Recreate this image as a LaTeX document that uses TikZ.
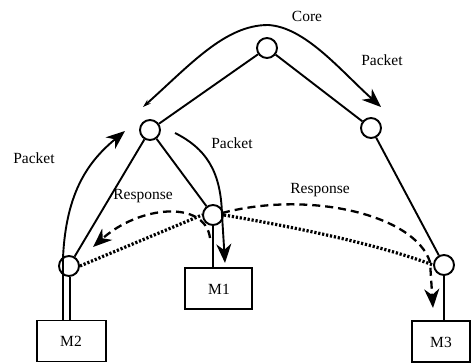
\documentclass[tikz,border=0pt]{standalone}
\usepackage{fontspec}
\setmainfont{Liberation Serif}
\usetikzlibrary{arrows.meta}
\tikzset{
  router/.style={circle, draw, minimum size=20pt, inner sep=0pt, line width=1.9pt},
  host/.style={rectangle, draw, line width=1.9pt, inner sep=0pt, minimum height=41pt},
  link/.style={line width=1.9pt},
  bigtip/.style={-{Stealth[length=19pt,width=15pt,inset=6pt]}},
  flow/.style={line width=1.9pt, bigtip},
  reply/.style={line width=2.3pt, dash pattern=on 8pt off 5pt, bigtip},
  path2/.style={line width=3.2pt, dash pattern=on 2.2pt off 1.8pt},
  lbl/.style={font=\fontsize{15.5}{18}\selectfont, inner sep=0pt}
}
\begin{document}
\begin{tikzpicture}[x=1pt,y=-1pt]
\useasboundingbox (0,0) rectangle (471,362);

% routers
\node[router] (core) at (267,48) {};
\node[router] (rl) at (150,130) {};
\node[router] (rr) at (371,128) {};
\node[router] (r1) at (213,215) {};
\node[router] (r2) at (69,266) {};
\node[router] (r3) at (444,265) {};

% hosts
\node[host, minimum width=67pt] (m1) at (218.5,288.5) {};
\node[host, minimum width=69pt] (m2) at (71.5,341) {};
\node[host, minimum width=58pt] (m3) at (441,341.5) {};
\node[lbl] at (219,289) {M1};
\node[lbl] at (71,341) {M2};
\node[lbl] at (441,342) {M3};

% tree links
\draw[link] (core) -- (rl);
\draw[link] (core) -- (rr);
\draw[link] (rl) -- (r2);
\draw[link] (rl) -- (r1);
\draw[link] (rr) -- (r3);
\draw[link] (r1.south) -- (r1.south |- m1.north);
\draw[link] ([xshift=1pt]r2.south) -- ([xshift=1pt]r2.south |- m2.north);
\draw[link] (r3.south) -- (r3.south |- m3.north);

% core packet flow
\coordinate (cs) at (143,107);
\coordinate (ct) at (268,25);
\coordinate (ce) at (381,107);
\draw[line width=1.9pt, {Stealth[length=8pt,width=5pt]}-{Stealth[length=19pt,width=15pt,inset=6pt]}]
  (cs) .. controls (190,65) and (225,25) .. (ct)
       .. controls (305,27) and (340,70) .. (ce);

% packet from M2 up to the left router
\coordinate (p2s) at (63,320);
\coordinate (p2b) at (63,258);
\coordinate (p2e) at (125,131);
\draw[flow] (p2s) -- (p2b) .. controls (66,190) and (90,160) .. (p2e);

% packet from the left router down to M1
\coordinate (p1s) at (175,133);
\coordinate (p1b) at (222,215);
\coordinate (p1e) at (225,263);
\draw[flow] (p1s) .. controls (205,148) and (221,170) .. (p1b) -- (p1e);

% responses
\coordinate (q0) at (210,238);
\coordinate (q2) at (93,247);
\draw[reply] (q0) .. controls (205,200) and (140,205) .. (q2);
\coordinate (q1) at (222,213);
\coordinate (q3b) at (430,262);
\coordinate (q3) at (433,308);
\draw[reply] (q1) .. controls (310,190) and (415,215) .. (q3b) -- (q3);

% dotted paths
\draw[path2] (r2.east) -- (r1.west);
\draw[path2] (r1.east) .. controls (300,228) and (380,245) .. (r3.west);

% labels
\node[lbl] at (307,16) {Core};
\node[lbl] at (382,60) {Packet};
\node[lbl] at (34,158) {Packet};
\node[lbl] at (232,143) {Packet};
\node[lbl] at (143,196) {Response};
\node[lbl] at (320,190) {Response};
\end{tikzpicture}
\end{document}
